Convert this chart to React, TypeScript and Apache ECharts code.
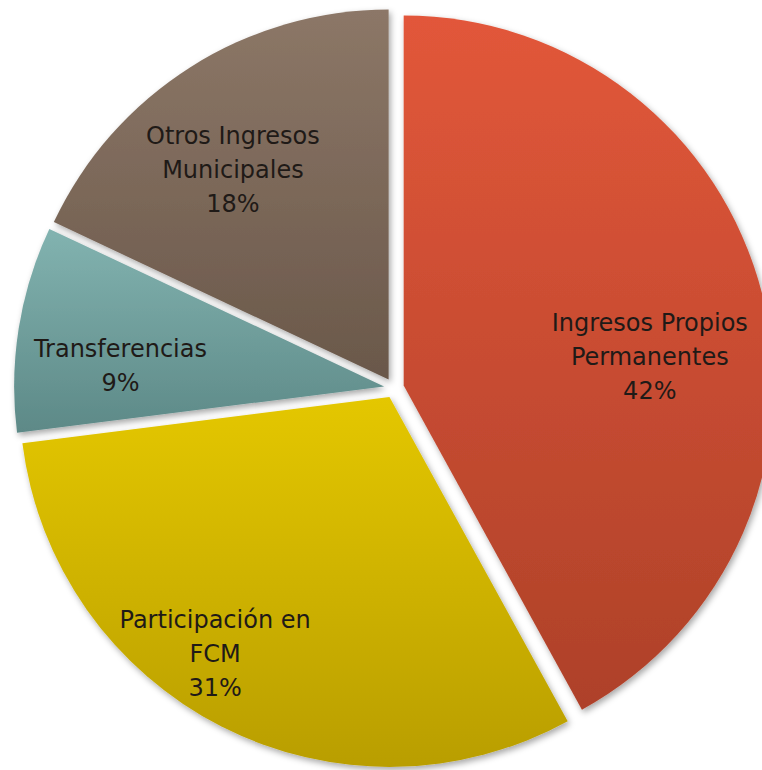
import React, { useEffect, useRef } from "react";
import * as echarts from "echarts";

const categories = [
  "Ingresos Propios\nPermanentes",
  "Participación en\nFCM",
  "Transferencias",
  "Otros Ingresos\nMunicipales",
];
const values = [42, 31, 9, 18];
const topColors = ["#E2573A", "#E4C700", "#82B3B0", "#8C7767"];
const bottomColors = ["#AE4129", "#B99E00", "#5D8987", "#6A584A"];
const labelShifts: number[][] = [
  [64, 18],
  [-89, 90],
  [-78, 9],
  [-55, -51],
];

export default function App() {
  const ref = useRef<HTMLDivElement>(null);
  useEffect(() => {
    document.body.style.margin = "0";
    const chart = echarts.init(ref.current!, null, { renderer: "svg" });
    chart.setOption({
      animation: false,
      backgroundColor: "#ffffff",
      series: [
        {
          type: "pie",
          center: [394, 388],
          radius: [0, 370],
          startAngle: 90,
          clockwise: true,
          selectedMode: "multiple",
          selectedOffset: 10,
          emphasis: { disabled: true },
          label: {
            show: true,
            position: "inside",
            formatter: (p: any) => `${p.name}\n${p.value}%`,
            fontFamily: "DejaVu Sans",
            fontSize: 24,
            lineHeight: 34,
            color: "#1f1a17",
            align: "center",
          },
          labelLayout: (params: any) => ({
            dx: labelShifts[params.dataIndex][0],
            dy: labelShifts[params.dataIndex][1],
          }),
          labelLine: { show: false },
          itemStyle: {
            shadowBlur: 6,
            shadowColor: "rgba(0,0,0,0.35)",
            shadowOffsetX: 2,
            shadowOffsetY: 3,
          },
          data: categories.map((name, i) => ({
            name,
            value: values[i],
            selected: true,
            itemStyle: {
              color: new echarts.graphic.LinearGradient(0, 0, 0, 1, [
                { offset: 0, color: topColors[i] },
                { offset: 1, color: bottomColors[i] },
              ]),
            },
          })),
        },
      ],
    });
    return () => chart.dispose();
  }, []);
  return <div ref={ref} style={{ width: 762, height: 770 }} />;
}
